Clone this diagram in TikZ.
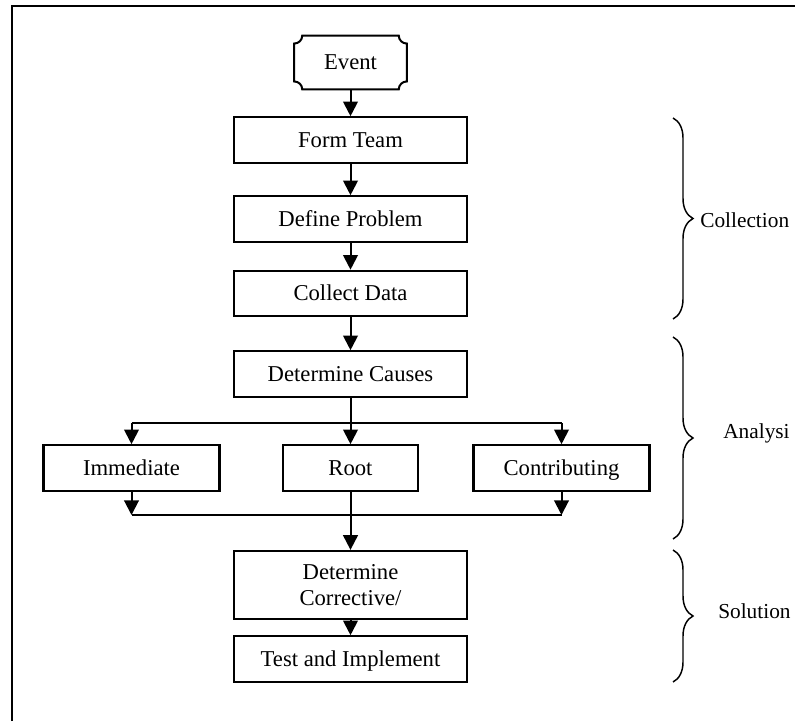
\documentclass[tikz,border=0pt]{standalone}
\usepackage{fontspec}
\setmainfont{Liberation Serif}
\usetikzlibrary{arrows.meta,decorations.pathreplacing,calc}
\begin{document}
\begin{tikzpicture}[x=0.75pt,y=-0.75pt,
	box/.style={draw,line width=1.7pt,minimum width=175pt,minimum height=34pt,inner sep=0pt,align=center,font=\fontsize{17}{19}\selectfont},
	cell/.style={box,text height=14pt,text depth=3.5pt},
	evt/.style={minimum width=84pt,minimum height=40pt,inner sep=0pt,text height=14pt,text depth=3.5pt,font=\fontsize{17}{19}\selectfont},
	arr/.style={line width=1.5pt,-{Triangle[length=11pt,width=11pt]}},
	brc/.style={decorate,decoration={brace,amplitude=15pt},line width=1.1pt},
	lbl/.style={anchor=west,inner sep=0pt,font=\fontsize{16}{19}\selectfont}]
	\useasboundingbox (0,0) rectangle (795,721);
	\draw[line width=1.6pt] (12,721) -- (12,6) -- (795,6);
	\node[evt] (event) at (350.5,62.5) {Event};
	\draw[line width=1.5pt] ($(event.north west)+(8,0)$) -- ($(event.north east)+(-8,0)$) arc[start angle=180,end angle=90,radius=8]
		-- ($(event.south east)+(0,-8)$) arc[start angle=270,end angle=180,radius=8]
		-- ($(event.south west)+(8,0)$) arc[start angle=0,end angle=-90,radius=8]
		-- ($(event.north west)+(0,8)$) arc[start angle=90,end angle=0,radius=8] -- cycle;
	\node[cell] (team) at (350.5,140) {Form Team};
	\node[cell] (define) at (350.5,219) {Define Problem};
	\node[cell] (collect) at (350.5,293.5) {Collect Data};
	\node[cell] (causes) at (350.5,374) {Determine Causes};
	\node[cell,minimum width=132pt] (immediate) at (131.5,468) {Immediate};
	\node[cell,minimum width=101pt] (root) at (350.5,468) {Root};
	\node[cell,minimum width=132pt] (contrib) at (561.5,468) {Contributing};
	\node[box,minimum height=51pt] (corrective) at (350.5,585) {Determine\\Corrective/};
	\node[cell] (test) at (350.5,659) {Test and Implement};
	\coordinate (forkL) at (131.5,423);
	\coordinate (forkR) at (561.5,423);
	\coordinate (joinL) at (131.5,515);
	\coordinate (joinR) at (561.5,515);
	\draw[arr] (event.south) -- (team.north);
	\draw[arr] (team.south) -- (define.north);
	\draw[arr] (define.south) -- (collect.north);
	\draw[arr] (collect.south) -- (causes.north);
	\draw[arr] (causes.south) -- (root.north);
	\draw[line width=1.5pt] (forkL) -- (forkR);
	\draw[arr] (forkL) -- (immediate.north);
	\draw[arr] (forkR) -- (contrib.north);
	\draw[arr] (immediate.south) -- (joinL);
	\draw[arr] (contrib.south) -- (joinR);
	\draw[line width=1.5pt] (joinL) -- (joinR);
	\draw[arr] (root.south) -- (corrective.north);
	\draw[arr] (corrective.south) -- (test.north);
	\draw[brc] (673,118) -- (673,319);
	\node[lbl] (collection) at (700,220) {Collection};
	\draw[brc] (673,337) -- (673,539);
	\node[lbl] (analysis) at (723,433) {Analysi};
	\draw[brc] (673,550) -- (673,682);
	\node[lbl] (solution) at (718,611) {Solution};
\end{tikzpicture}
\end{document}
